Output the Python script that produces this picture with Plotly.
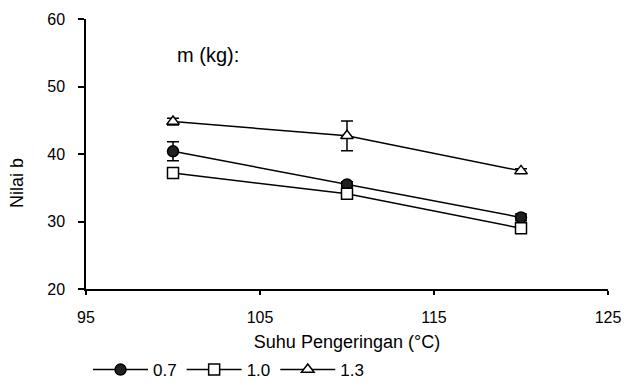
import plotly.graph_objects as go

temps = [100, 110, 120]
labels = ["0.7", "1.0", "1.3"]
b_07 = [40.4, 35.5, 30.6]
err_07 = [1.4, 0.4, 0.5]
b_10 = [37.2, 34.1, 29.0]
err_10 = [0.3, 0.3, 0.3]
b_13 = [44.8, 42.7, 37.5]
err_13 = [0.5, 2.2, 0.3]

series = [
    (labels[0], b_07, err_07, "circle", "#231f20"),
    (labels[1], b_10, err_10, "square", "white"),
    (labels[2], b_13, err_13, "triangle-up", "white"),
]

fig = go.Figure()
for name, vals, errs, sym, fill in series:
    fig.add_trace(go.Scatter(
        x=temps, y=vals, name=name, mode="lines+markers",
        line=dict(color="black", width=1.5),
        marker=dict(symbol=sym, size=11, color=fill,
                    line=dict(color="black", width=1.5)),
        error_y=dict(type="data", array=errs, visible=True,
                     color="black", thickness=1.5, width=6),
    ))

font = "Liberation Sans, Arial, sans-serif"
fig.update_layout(
    width=625, height=383,
    margin=dict(l=86, r=17, t=19, b=94),
    plot_bgcolor="white", paper_bgcolor="white",
    font=dict(family=font, size=16, color="black"),
    showlegend=True,
    legend=dict(orientation="h", xref="container", x=88/625, xanchor="left",
                yref="container", y=13/383, yanchor="middle",
                font=dict(size=17), itemwidth=55, tracegroupgap=0),
    xaxis=dict(range=[95, 125], tickvals=[95, 105, 115, 125],
               showline=True, linecolor="black", linewidth=1.5,
               ticks="outside", ticklen=4, tickcolor="black", tickwidth=1.5,
               ticklabelstandoff=9,
               showgrid=False, zeroline=False, automargin=False,
               title=dict(text="Suhu Pengeringan (°C)", font=dict(size=18), standoff=15)),
    yaxis=dict(range=[20, 60], tickvals=[20, 30, 40, 50, 60],
               showline=True, linecolor="black", linewidth=1.5,
               ticks="outside", ticklen=6, tickcolor="black", tickwidth=1.5,
               ticklabelstandoff=10,
               showgrid=False, zeroline=False, automargin=False),
    annotations=[
        dict(text="m (kg):", x=100.1, y=54.6, xref="x", yref="y",
             xanchor="left", yanchor="middle", showarrow=False,
             font=dict(size=20)),
        dict(text="Nilai b", x=(17 - 86) / 522, y=(289 - 183) / 270,
             xref="paper", yref="paper",
             xanchor="center", yanchor="middle", textangle=-90, showarrow=False,
             font=dict(size=18)),
    ],
)

fig.write_html("out.html")
